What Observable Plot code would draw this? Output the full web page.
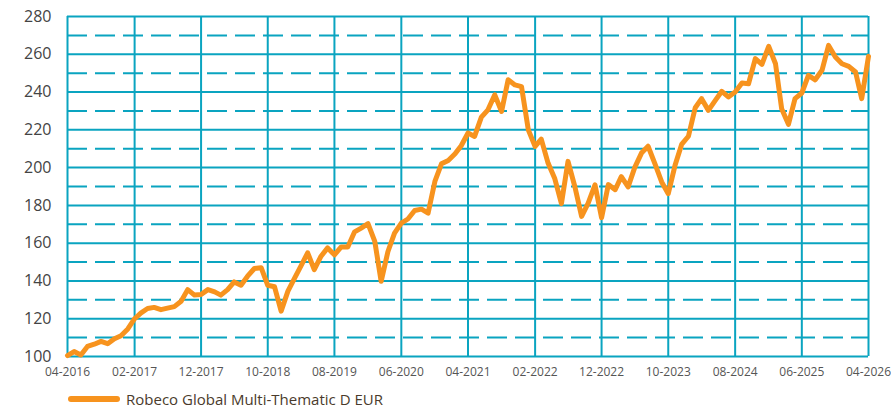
<!DOCTYPE html>
<html>
<head>
<meta charset="utf-8">
<script src="https://cdn.jsdelivr.net/npm/d3@7"></script>
<script src="https://cdn.jsdelivr.net/npm/@observablehq/plot@0.6"></script>
<style>
  html, body { margin: 0; padding: 0; background: #fff; }
  #chart svg { overflow: visible; display: block; }
  .legend { display: flex; align-items: center; height: 20px; margin-top: 1px; padding-left: 68px;
    font-family: "Open Sans", sans-serif; font-size: 15px; color: #4a3b2c; }
  .legend .swatch { width: 52px; height: 6px; border-radius: 3px; background: #f7931e; margin-right: 6px; }
</style>
</head>
<body>
<div id="chart"></div>
<script>
const seriesName = "Robeco Global Multi-Thematic D EUR";
const startYear = 2016, startMonth = 4; // first observation: 04-2016, monthly
const values = [
  100.5, 102.6, 100.8, 105.3, 106.5, 108.0, 106.8, 109.4, 111.0, 114.6,
  120.0, 123.0, 125.4, 126.0, 124.8, 125.6, 126.4, 129.2, 135.4, 132.5,
  132.8, 135.4, 134.2, 132.5, 135.4, 139.5, 137.7, 142.5, 146.6, 147.0,
  137.7, 136.9, 124.0, 134.6, 141.6, 147.8, 154.9, 146.0, 153.1, 157.5,
  153.8, 158.0, 158.0, 166.0, 168.0, 170.3, 161.0, 139.8, 155.6, 165.3,
  170.6, 172.8, 177.3, 178.0, 175.9, 192.7, 202.0, 203.8, 207.3, 211.6,
  218.3, 216.5, 226.7, 230.6, 238.5, 229.7, 246.5, 243.8, 242.9, 220.0,
  211.2, 215.1, 202.4, 194.4, 180.9, 203.3, 190.0, 174.2, 181.2, 190.9,
  173.5, 191.0, 188.3, 195.2, 189.8, 200.0, 207.7, 211.3, 202.1, 192.4,
  186.2, 201.2, 212.3, 216.6, 231.7, 236.5, 230.3, 235.3, 240.4, 237.4,
  240.0, 244.8, 244.4, 257.7, 254.7, 264.2, 255.0, 231.2, 222.9, 236.5,
  239.5, 248.8, 246.5, 251.5, 264.7, 258.5, 255.0, 253.6, 250.6, 236.5,
  258.9
];
const xTickLabels = ["04-2016","02-2017","12-2017","10-2018","08-2019","06-2020",
  "04-2021","02-2022","12-2022","10-2023","08-2024","06-2025","04-2026"];
const yTicks = [100,120,140,160,180,200,220,240,260,280];
const yDashed = [110,130,150,170,190,210,230,250,270];

const parseLabel = d3.utcParse("%m-%Y");
const xTicks = xTickLabels.map(parseLabel);
const data = values.map((v, i) => ({date: new Date(Date.UTC(startYear, startMonth - 1 + i, 1)), value: v}));

const gridColor = "#0aa4c0";
const chart = Plot.plot({
  width: 891,
  height: 388,
  marginLeft: 67,
  marginRight: 23,
  marginTop: 16,
  marginBottom: 32,
  style: {fontFamily: "'Open Sans', sans-serif", background: "#fff"},
  x: {type: "utc", domain: [xTicks[0], xTicks[xTicks.length - 1]]},
  y: {domain: [100, 280]},
  marks: [
    Plot.ruleY(yDashed, {stroke: gridColor, strokeWidth: 2, strokeDasharray: "20,8"}),
    Plot.ruleY(yTicks, {stroke: gridColor, strokeWidth: 2}),
    Plot.ruleX(xTicks, {stroke: gridColor, strokeWidth: 2}),
    Plot.line(data, {x: "date", y: "value", stroke: "#f7931e", strokeWidth: 5, strokeLinejoin: "round", strokeLinecap: "round"}),
    Plot.axisY({ticks: yTicks, tickSize: 0, tickPadding: 16, fontSize: 16, color: "#444", label: null}),
    Plot.axisX({ticks: xTicks, tickSize: 0, tickPadding: 11, fontSize: 12, color: "#555", label: null,
      tickFormat: d3.utcFormat("%m-%Y")})
  ]
});
document.getElementById("chart").appendChild(chart);

const legend = document.createElement("div");
legend.className = "legend";
legend.innerHTML = `<span class="swatch"></span><span></span>`;
legend.lastChild.textContent = seriesName;
document.body.appendChild(legend);
</script>
</body>
</html>
